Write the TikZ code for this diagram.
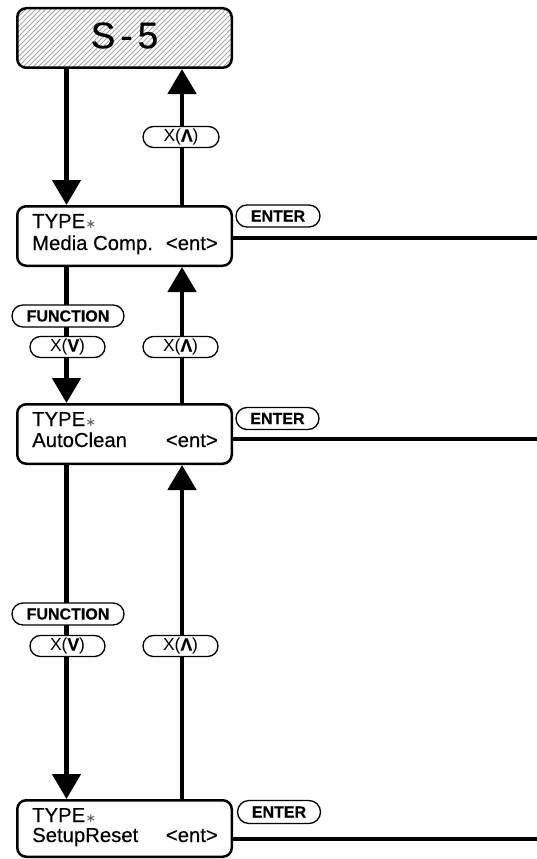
\documentclass[tikz,border=0pt]{standalone}
\usepackage{fontspec}
\setmainfont{Liberation Sans}[FakeBold=0.3, BoldFont={Liberation Sans Bold}, BoldFeatures={FakeBold=0.2}]
\newfontfamily\plainsans{Liberation Sans}[BoldFont={Liberation Sans Bold}, BoldFeatures={FakeBold=0.2}]
\newfontfamily\symfont{DejaVu Sans}
\usetikzlibrary{arrows.meta,shapes.misc}
\newcommand\tast{\kern0.5pt{\symfont\fontsize{12.5}{12.5}\selectfont\color{black!65}∗}}
\begin{document}
\begin{tikzpicture}[x=1pt,y=-1pt,
 box/.style={draw,line width=2.5pt,rounded corners=9pt,minimum width=214.5pt,minimum height=59.5pt,inner sep=0pt,anchor=north west},
 hatch/.style={path picture={\foreach \i in {-80,-75,...,240} \draw[black!35,line width=0.75pt] ([xshift=\i pt]path picture bounding box.south west) -- ++(80pt,80pt);}},
 pill/.style={draw,line width=1.3pt,rounded rectangle,fill=white,inner sep=0pt,minimum height=21pt,font=\fontsize{16}{16}\selectfont},
 xpill/.style={pill,font=\plainsans\fontsize{17.5}{17.5}\selectfont},
 flow/.style={line width=4.8pt,-{Triangle[width=28pt,length=25pt]}},
 plain/.style={line width=4.8pt},
 boxtext/.style={font=\fontsize{20.3}{21}\selectfont,inner sep=0pt,anchor=base west},
 boxtextr/.style={boxtext,anchor=base east},
]
\useasboundingbox (0,0) rectangle (537,859);

% boxes
\node[box,hatch] (s5) at (16,7) {};
\node[font=\fontsize{37}{37}\selectfont,inner sep=0pt] (s5t) at ([yshift=2.5pt]s5.center) {S\kern5pt-\kern5pt5};

\node[box] (media) at (16,205) {};
\node[boxtext] (m1) at ([xshift=16pt,yshift=-23pt]media.north west) {TYPE\tast};
\node[boxtext] (m2) at ([xshift=16pt,yshift=-45pt]media.north west) {Media Comp.};
\node[boxtextr] (m3) at ([xshift=-15pt,yshift=-45pt]media.north east) {<ent>};

\node[box] (auto) at (16,403) {};
\node[boxtext] (a1) at ([xshift=16pt,yshift=-23pt]auto.north west) {TYPE\tast};
\node[boxtext] (a2) at ([xshift=16pt,yshift=-44pt]auto.north west) {AutoClean};
\node[boxtextr] (a3) at ([xshift=-15pt,yshift=-44pt]auto.north east) {<ent>};

\node[box,minimum height=56.5pt] (setup) at (16,799) {};
\node[boxtext] (r1) at ([xshift=16pt,yshift=-23pt]setup.north west) {TYPE\tast};
\node[boxtext] (r2) at ([xshift=16pt,yshift=-43pt]setup.north west) {SetupReset};
\node[boxtextr] (r3) at ([xshift=-15pt,yshift=-43pt]setup.north east) {<ent>};

% vertical connectors
\draw[flow] ([xshift=-58pt]s5.south) -- ([xshift=-58pt]media.north);
\draw[flow] ([xshift=57.5pt]media.north) -- ([xshift=57.5pt]s5.south);
\draw[flow] ([xshift=-58pt]media.south) -- ([xshift=-58pt]auto.north);
\draw[flow] ([xshift=57.5pt]auto.north) -- ([xshift=57.5pt]media.south);
\draw[flow] ([xshift=-58pt]auto.south) -- ([xshift=-58pt]setup.north);
\draw[flow] ([xshift=57.5pt]setup.north) -- ([xshift=57.5pt]auto.south);

% enter lines
\coordinate (e1) at (537,238);
\coordinate (e2) at (537,439);
\coordinate (e3) at (537,839);
\draw[plain] (media.east |- e1) -- (e1);
\draw[plain] (auto.east |- e2) -- (e2);
\draw[plain] (setup.east |- e3) -- (e3);

% pills
\node[xpill,minimum width=76pt] (xa1) at (181,137) {X(\textbf{Λ})};
\node[pill,minimum width=84pt,minimum height=22pt] (en1) at (278,216) {\textbf{ENTER}};
\node[pill,minimum width=112pt,minimum height=22pt] (fn1) at (68,316) {\textbf{FUNCTION}};
\node[xpill,minimum width=75pt] (xv1) at (67.5,347) {X(\textbf{V})};
\node[xpill,minimum width=75pt] (xa2) at (180.5,347) {X(\textbf{Λ})};
\node[pill,minimum width=83pt,minimum height=22pt] (en2) at (277.5,418.5) {\textbf{ENTER}};
\node[pill,minimum width=112pt,minimum height=22pt] (fn2) at (68,614) {\textbf{FUNCTION}};
\node[xpill,minimum width=75pt] (xv2) at (67.5,646) {X(\textbf{V})};
\node[xpill,minimum width=75pt] (xa3) at (180.5,646) {X(\textbf{Λ})};
\node[pill,minimum width=83pt,minimum height=23pt] (en3) at (279,812) {\textbf{ENTER}};
\end{tikzpicture}
\end{document}
